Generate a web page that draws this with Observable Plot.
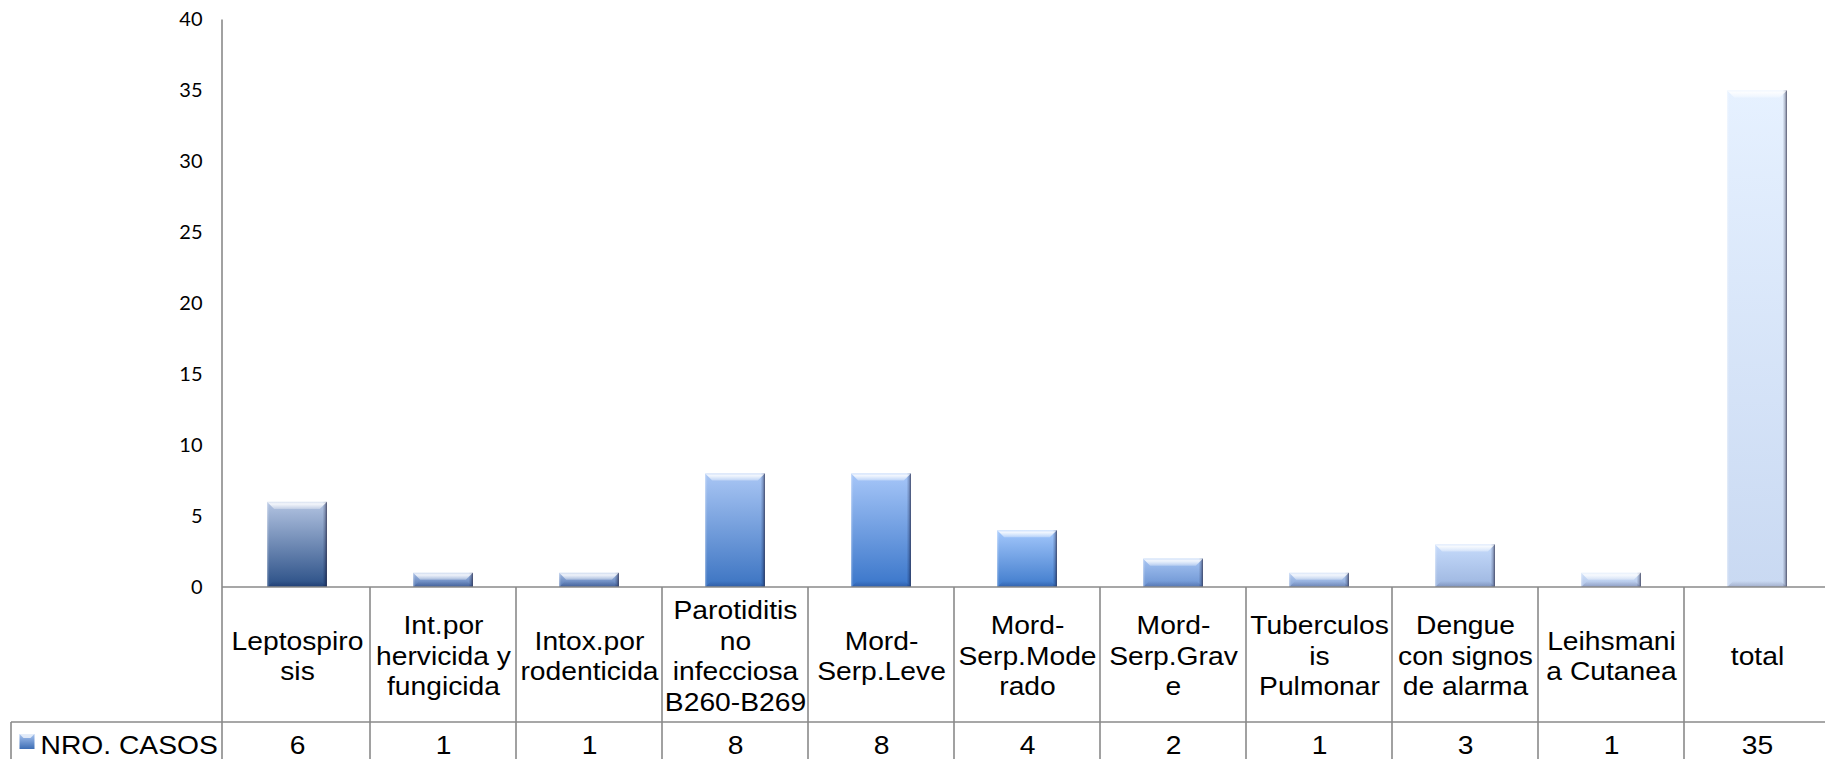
<!DOCTYPE html>
<html>
<head>
<meta charset="utf-8">
<script src="https://cdn.jsdelivr.net/npm/d3@7"></script>
<script src="https://cdn.jsdelivr.net/npm/@observablehq/plot@0.6"></script>
<style>
html, body { margin: 0; padding: 0; background: #fff; overflow: hidden; }
#chart svg { display: block; }
</style>
</head>
<body>
<div id="chart"></div>
<script>
// ---- data ----
const categories = [
  "Leptospirosis",
  "Int.por hervicida y fungicida",
  "Intox.por rodenticida",
  "Parotiditis no infecciosa B260-B269",
  "Mord-Serp.Leve",
  "Mord-Serp.Moderado",
  "Mord-Serp.Grave",
  "Tuberculosis Pulmonar",
  "Dengue con signos de alarma",
  "Leihsmania Cutanea",
  "total"
];
const categoryLabels = [
  "Leptospiro\nsis",
  "Int.por\nhervicida y\nfungicida",
  "Intox.por\nrodenticida",
  "Parotiditis\nno\ninfecciosa\nB260-B269",
  "Mord-\nSerp.Leve",
  "Mord-\nSerp.Mode\nrado",
  "Mord-\nSerp.Grav\ne",
  "Tuberculos\nis\nPulmonar",
  "Dengue\ncon signos\nde alarma",
  "Leihsmani\na Cutanea",
  "total"
];
const seriesName = "NRO. CASOS";
const casos = [6, 1, 1, 8, 8, 4, 2, 1, 3, 1, 35];
const yTicks = [0, 5, 10, 15, 20, 25, 30, 35, 40];

// ---- styles ----
const barShades = [
  ["#b3c4e2", "#2a4f86"],
  ["#a2b9e2", "#5478b4"],
  ["#a2b9e2", "#5478b4"],
  ["#a9c6f4", "#3c74c2"],
  ["#a6c6f8", "#3a76ca"],
  ["#a4c8fc", "#3f7bcc"],
  ["#a6c4f2", "#6b93d2"],
  ["#b6cdf2", "#86a4d6"],
  ["#c6dbfb", "#9db6e0"],
  ["#d0e1f9", "#b0c4e8"],
  ["#e6f1ff", "#c9d9f2"]
];
const W = 1825, H = 759;
const axisX = 222, zeroY = 587, topY = 19.5, rowY = 722, legendX = 11;
const bandW = 146.4;
const lineColor = "#8a8a8a";
const tableFont = "'Liberation Sans', Arial, sans-serif";
const textStretch = 1.13;

const rows = categories.map((c, i) => ({cat: c, label: categoryLabels[i], n: casos[i], grad: `url(#barGrad${i})`}));

const inset = (bandW - 60) / 2;
const tag = (name) => ({ariaLabel: () => name, ariaDescription: name});

const chart = Plot.plot({
  width: W,
  height: H,
  marginLeft: axisX,
  marginRight: 0,
  marginTop: topY,
  marginBottom: H - zeroY,
  style: {background: "#fff", fontFamily: tableFont, overflow: "hidden"},
  x: {domain: categories, range: [axisX, axisX + bandW * categories.length], padding: 0, axis: null},
  y: {domain: [0, 40], ticks: yTicks, label: null},
  color: {type: "identity"},
  marks: [
    Plot.axisY({ticks: yTicks, tickSize: 0, tickPadding: 20, fontSize: 20, fontFamily: "Lato, 'Open Sans', sans-serif", label: null, fill: "#000"}),
    // bars
    Plot.barY(rows, {x: "cat", y: "n", fill: "grad", insetLeft: inset, insetRight: inset}),
    // side shading
    Plot.barY(rows, {x: "cat", y: "n", fill: "url(#edgeShade)", insetLeft: inset, insetRight: inset}),
    // bottom bevel
    Plot.barY(rows, {x: "cat", y1: 0, y2: 0, insetTop: -6, fill: "url(#bottomBevel)", insetLeft: inset, insetRight: inset, ...tag("bottom-bevel")}),
    // top bevel
    Plot.barY(rows, {x: "cat", y1: "n", y2: "n", insetBottom: -7, fill: "url(#topBevel)", insetLeft: inset, insetRight: inset, ...tag("top-bevel")}),
    // header row labels
    Plot.text(rows, {x: "cat", text: "label", frameAnchor: "bottom", dy: 67.5, lineAnchor: "middle", lineHeight: 1.22, fontSize: 25, fill: "#000", ...tag("table-text")}),
    // value row
    Plot.text(rows, {x: "cat", text: d => String(d.n), frameAnchor: "bottom", dy: 158, lineAnchor: "middle", fontSize: 25, fill: "#000", ...tag("table-text")}),
    // legend label
    Plot.text([seriesName], {text: d => d, frameAnchor: "bottom-left", dx: 40 - axisX, dy: 158, lineAnchor: "middle", textAnchor: "start", fontSize: 25, fill: "#000", ...tag("table-text")})
  ]
});

const svg = d3.select(chart);
const defs = svg.insert("defs", ":first-child");
barShades.forEach(([t, b], i) => {
  const g = defs.append("linearGradient").attr("id", "barGrad" + i)
    .attr("x1", 0).attr("y1", 0).attr("x2", 0).attr("y2", 1);
  g.append("stop").attr("offset", 0).attr("stop-color", t);
  g.append("stop").attr("offset", 1).attr("stop-color", b);
});
{
  const g = defs.append("linearGradient").attr("id", "edgeShade").attr("x1", 0).attr("y1", 0).attr("x2", 1).attr("y2", 0);
  [[0, "#ffffff", 0.25], [0.04, "#ffffff", 0.0], [0.93, "#000020", 0.0], [0.975, "#000020", 0.25], [1, "#000020", 0.75]]
    .forEach(([o, c, a]) => g.append("stop").attr("offset", o).attr("stop-color", c).attr("stop-opacity", a));
  const t = defs.append("linearGradient").attr("id", "topBevel").attr("x1", 0).attr("y1", 0).attr("x2", 0).attr("y2", 1);
  [[0, "#ffffff", 0.5], [0.3, "#ffffff", 0.85], [1, "#ffffff", 0.3]]
    .forEach(([o, c, a]) => t.append("stop").attr("offset", o).attr("stop-color", c).attr("stop-opacity", a));
  const b = defs.append("linearGradient").attr("id", "bottomBevel").attr("x1", 0).attr("y1", 0).attr("x2", 0).attr("y2", 1);
  [[0, "#000030", 0.0], [1, "#000030", 0.2]]
    .forEach(([o, c, a]) => b.append("stop").attr("offset", o).attr("stop-color", c).attr("stop-opacity", a));
  const s = defs.append("linearGradient").attr("id", "legendSwatch").attr("x1", 0).attr("y1", 0).attr("x2", 0).attr("y2", 1);
  s.append("stop").attr("offset", 0).attr("stop-color", "#a8c4f0");
  s.append("stop").attr("offset", 1).attr("stop-color", "#3d6db4");
}

const pick = (name, el) => svg.selectAll(`g[aria-description="${name}"] ${el}, ${el}[aria-label="${name}"]`);

// turn bevel strips into trapezoids
function toTrapezoid(sel, top) {
  sel.each(function () {
    const r = d3.select(this);
    const x = +r.attr("x"), y = +r.attr("y"), w = +r.attr("width"), h = +r.attr("height");
    if (!(w > 0 && h > 0)) return;
    const d = top
      ? `M${x},${y}h${w}l${-h},${h}h${-(w - 2 * h)}z`
      : `M${x + h},${y}h${w - 2 * h}l${h},${h}h${-w}z`;
    d3.select(this.parentNode).insert("path", () => this)
      .attr("d", d).attr("fill", r.attr("fill") || getComputedStyle(this).fill)
      .attr("transform", r.attr("transform"));
    r.remove();
  });
}
toTrapezoid(pick("top-bevel", "rect"), true);
toTrapezoid(pick("bottom-bevel", "rect"), false);

// data table grid
const xs = chart.scale("x");
const bounds = categories.map(c => xs.apply(c)).concat([xs.apply(categories[categories.length - 1]) + xs.bandwidth]);
const grid = svg.append("g").attr("stroke", lineColor).attr("stroke-width", 1.6).attr("fill", "none");
grid.append("line").attr("x1", axisX).attr("x2", axisX).attr("y1", topY).attr("y2", H);
grid.append("line").attr("x1", axisX).attr("x2", bounds[bounds.length - 1]).attr("y1", zeroY).attr("y2", zeroY);
grid.append("line").attr("x1", legendX).attr("x2", bounds[bounds.length - 1]).attr("y1", rowY).attr("y2", rowY);
grid.append("line").attr("x1", legendX).attr("x2", legendX).attr("y1", rowY).attr("y2", H);
bounds.slice(1).forEach(bx => grid.append("line").attr("x1", bx).attr("x2", bx).attr("y1", zeroY).attr("y2", H));

// legend swatch
const sw = svg.append("g");
sw.append("rect").attr("x", 19.5).attr("y", 734).attr("width", 15).attr("height", 15).attr("fill", "url(#legendSwatch)");
sw.append("path").attr("d", "M19.5,734 h15 l-4,4 h-7 z").attr("fill", "#ffffff").attr("fill-opacity", 0.7);

document.getElementById("chart").appendChild(chart);

// stretch the table text horizontally like the reference (around each text's anchor)
pick("table-text", "text").each(function () {
  const bb = this.getBBox();
  const anchor = getComputedStyle(this).textAnchor || "middle";
  const ax = anchor === "start" ? bb.x : anchor === "end" ? bb.x + bb.width : bb.x + bb.width / 2;
  const t = this.getAttribute("transform") || "";
  this.setAttribute("transform", `${t} translate(${ax},0) scale(${textStretch},1) translate(${-ax},0)`);
});
</script>
</body>
</html>
